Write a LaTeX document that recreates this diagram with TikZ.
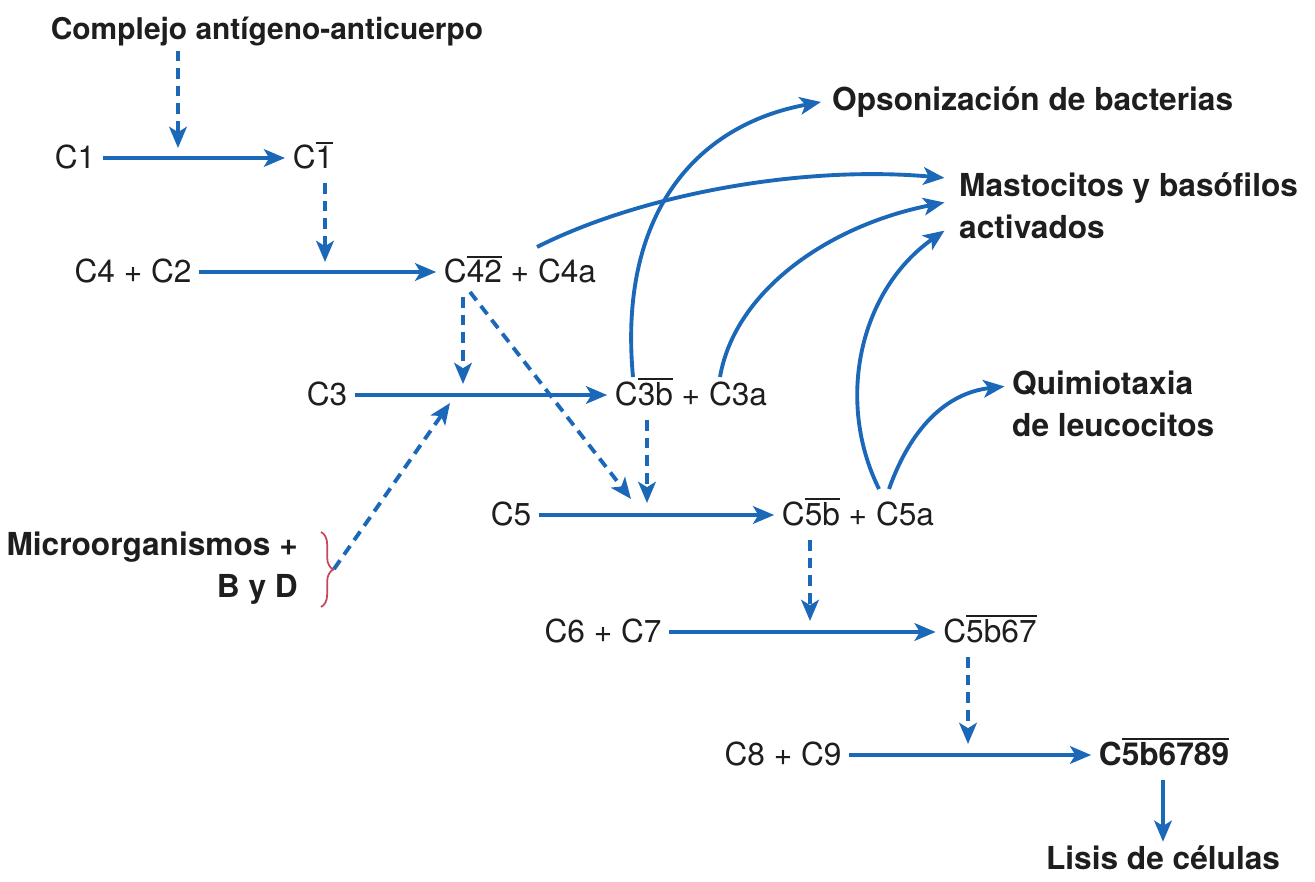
\documentclass[tikz,border=0pt]{standalone}
\usepackage{fontspec}
\setmainfont{TeX Gyre Heros}
\usetikzlibrary{arrows.meta,decorations.pathreplacing}
\definecolor{pathblue}{RGB}{28,104,184}
\definecolor{ink}{RGB}{30,30,30}
\definecolor{bracered}{RGB}{200,70,90}
% bar over the active part of a fragment name
\newcommand{\ovl}[1]{\setbox0\hbox{#1}\rlap{\rule[\dimexpr\ht0+0.7pt\relax]{\wd0}{0.45pt}}\box0\relax}
\tikzset{
  cmp/.style={text=ink, inner sep=2pt, text height=8pt, text depth=2pt, font=\fontsize{9}{11}\selectfont},
  lbl/.style={text=ink, inner sep=1pt, align=left, font=\fontsize{9}{12}\selectfont\bfseries},
  rxn/.style={pathblue, line width=1.1pt, -{Stealth[length=6pt,width=5pt,inset=1.5pt]}},
  act/.style={rxn, dash pattern=on 3pt off 2pt},
}
\begin{document}
\begin{tikzpicture}[x=0.01cm,y=-0.01cm]
                \useasboundingbox (0,0) rectangle (1315,882);
                % Components of the cascade
                \node[cmp] (c1) at (75,158) {C1};
                \node[cmp] (c1b) at (313,158) {C\ovl{1}};
                \node[cmp] (c4c2) at (133,272) {C4 + C2};
                \node[cmp] (c42) at (520,272) {C\ovl{42} + C4a};
                \node[cmp] (c3) at (327,395) {C3};
                \node[cmp] (c3b) at (691,395) {C\ovl{3b} + C3a};
                \node[cmp] (c5) at (511,515) {C5};
                \node[cmp] (c5b) at (858,515) {C\ovl{5b} + C5a};
                \node[cmp] (c67) at (603,632) {C6 + C7};
                \node[cmp] (c567) at (990,632) {C\ovl{5b67}};
                \node[cmp] (c89) at (783,755) {C8 + C9};
                \node[cmp, font=\fontsize{9}{11}\selectfont\bfseries] (c5789) at (1164,755) {C\ovl{5b6789}};
                % Triggers and effects
                \node[lbl, font=\fontsize{8.5}{11}\selectfont\bfseries] (cplx) at (267,32) {Complejo antígeno-anticuerpo};
                \node[lbl, anchor=west] (opso) at (828,102) {Opsonización de bacterias};
                \node[lbl, anchor=west] (mast) at (955,206) {Mastocitos y basófilos\\activados};
                \node[lbl, anchor=west] (quim) at (1008,404) {Quimiotaxia\\de leucocitos};
                \node[lbl, align=right, anchor=east] (micro) at (302,568) {Microorganismos +\\B y D};
                \node[lbl] (lisis) at (1163,858) {Lisis de células};
                % Reactions
                \foreach \a/\b in {c1/c1b, c4c2/c42, c3/c3b, c5/c5b, c67/c567, c89/c5789}
                    \draw[rxn] (\a) -- (\b);
                \draw[rxn] (c5789.south -| lisis) -- (lisis);
                % Activation (dashed)
                \coordinate (j1) at (178,148);
                \coordinate (j2) at (325,262);
                \coordinate (j3) at (463,384);
                \coordinate (j4) at (631,499);
                \coordinate (j5) at (647,503);
                \coordinate (j6) at (810,621);
                \coordinate (j7) at (968,744);
                \coordinate (j8) at (450,403);
                \coordinate (d42) at (470,292);
                \draw[act] (cplx.south -| j1) -- (j1);
                \draw[act] (c1b.south -| j2) -- (j2);
                \draw[act] (c42.south -| j3) -- (j3);
                \draw[act] (d42) -- (j4);
                \draw[act] (c3b.south -| j5) -- (j5);
                \draw[act] (c5b.south -| j6) -- (j6);
                \draw[act] (c567.south -| j7) -- (j7);
                % Alternative pathway
                \draw[bracered, line width=0.5pt, decorate, decoration={brace, amplitude=3.5pt}] (321,532) -- (321,607);
                \coordinate (brtip) at (334,569);
                \draw[act] (brtip) -- (j8);
                % Effects of the split products
                \coordinate (s4a) at (537,247);
                \coordinate (s3b) at (633,377);
                \coordinate (s3a) at (720,377);
                \coordinate (s5a) at (879,489);
                \coordinate (s5q) at (889,489);
                \draw[rxn] (s4a) .. controls (640,195) and (800,165) .. ([xshift=-3pt,yshift=8pt]mast.west);
                \draw[rxn] (s3b) .. controls (618,215) and (695,125) .. ([xshift=-2pt]opso.west);
                \draw[rxn] (s3a) .. controls (735,290) and (830,225) .. ([xshift=-3pt,yshift=1pt]mast.west);
                \draw[rxn] (s5a) .. controls (835,400) and (860,290) .. ([xshift=-3pt,yshift=-7pt]mast.west);
                \draw[rxn] (s5q) .. controls (910,430) and (945,393) .. ([xshift=-1pt,yshift=5pt]quim.west);
\end{tikzpicture}
\end{document}
